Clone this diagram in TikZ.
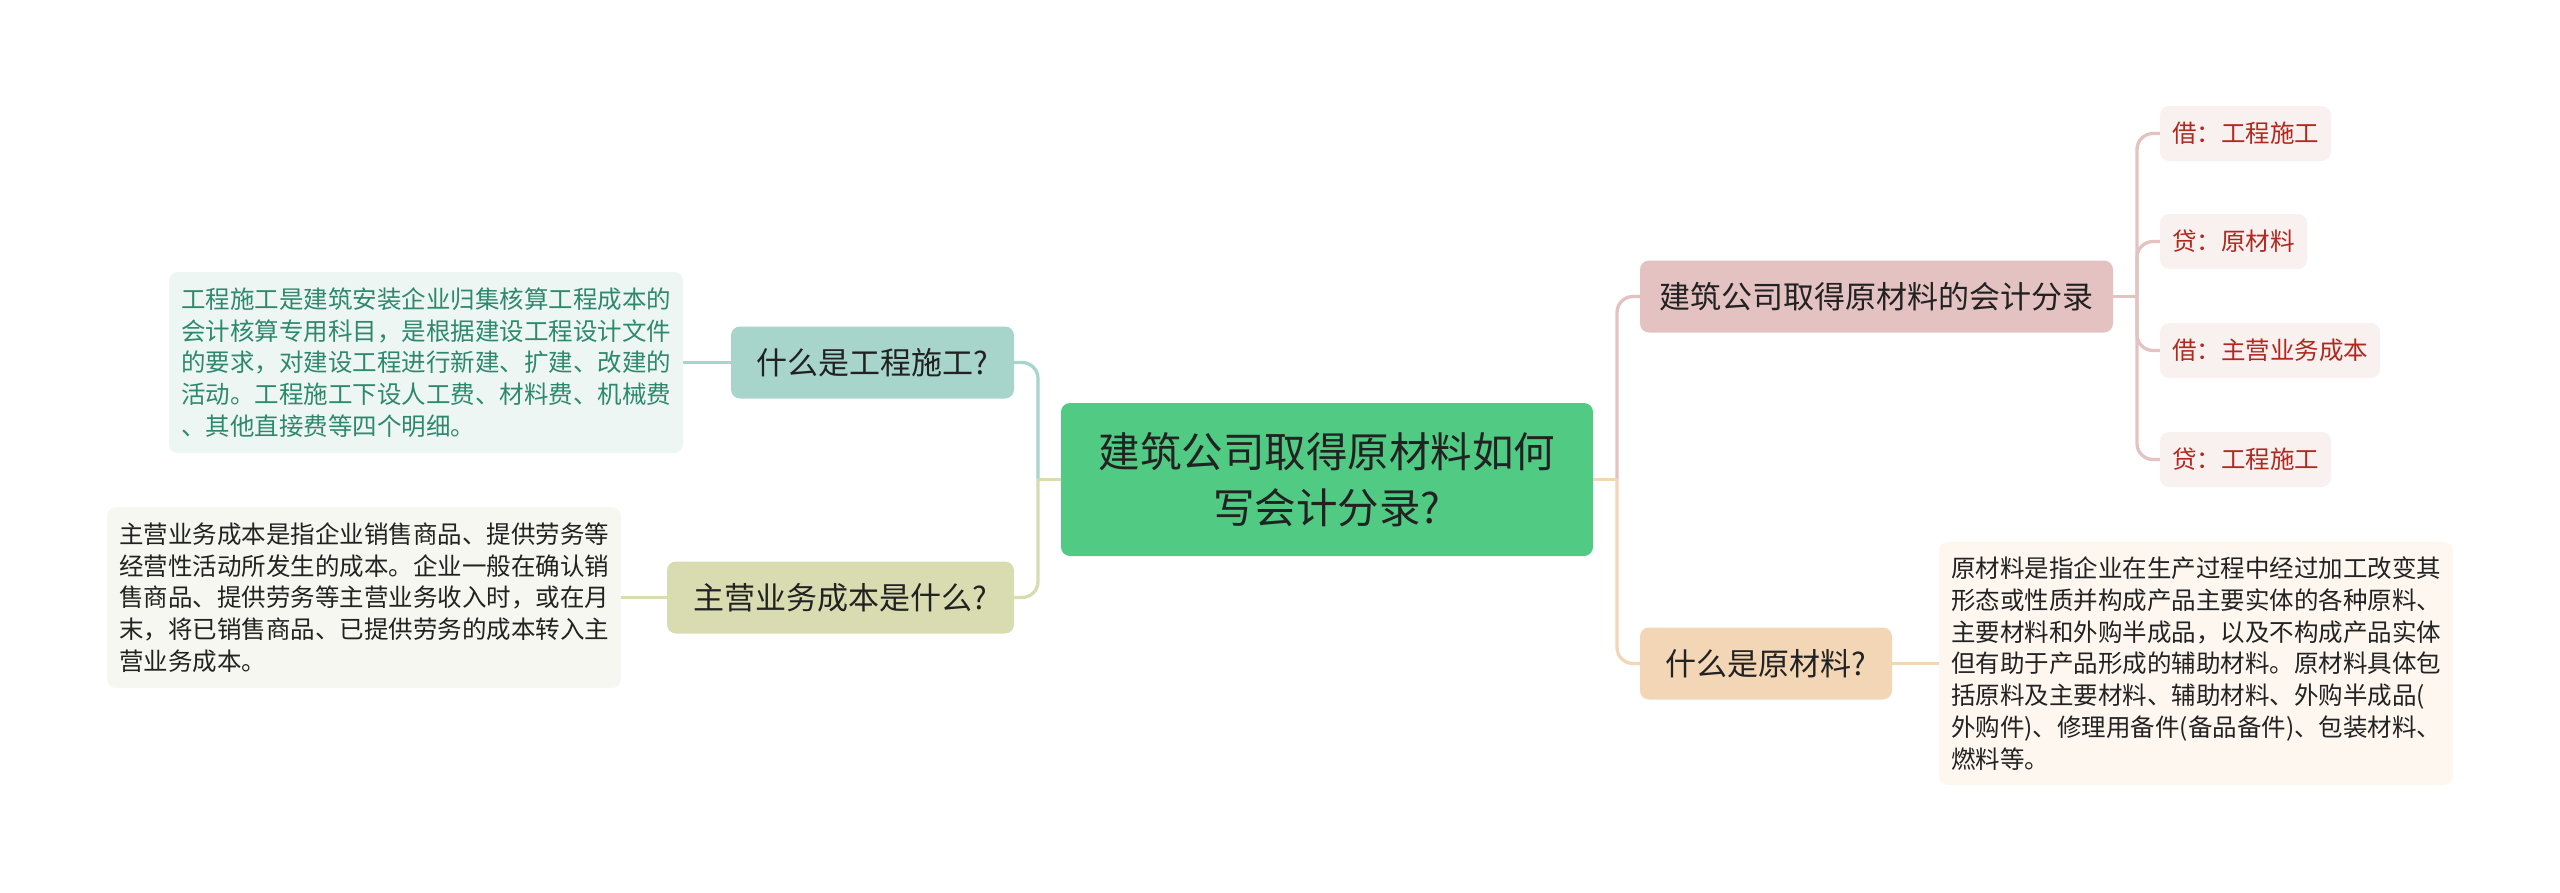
\documentclass[tikz,border=0pt]{standalone}
\usepackage{fontspec}
\setmainfont{Noto Sans CJK SC}
\definecolor{greenC}{RGB}{81,202,132}
\definecolor{tealN}{RGB}{167,212,203}
\definecolor{tealD}{RGB}{238,246,244}
\definecolor{tealT}{RGB}{46,137,108}
\definecolor{oliveN}{RGB}{216,220,176}
\definecolor{oliveD}{RGB}{246,247,240}
\definecolor{pinkN}{RGB}{229,194,194}
\definecolor{pinkD}{RGB}{249,240,240}
\definecolor{redT}{RGB}{176,40,30}
\definecolor{peachN}{RGB}{243,214,181}
\definecolor{peachD}{RGB}{253,247,240}
\definecolor{darkT}{RGB}{34,34,34}
\begin{document}
\begin{tikzpicture}[x=1pt,y=-1pt,
  box/.style={rounded corners=9pt, inner sep=0pt, align=center},
  mainbox/.style={box, fill=greenC, text=darkT, minimum width=532, minimum height=153,
    font=\fontsize{41.5}{56}\selectfont},
  lvlone/.style={box, text=darkT, minimum height=72, font=\fontsize{31}{38}\selectfont},
  leaf/.style={box, fill=pinkD, text=redT, minimum height=55, font=\fontsize{24.5}{30}\selectfont},
  detail/.style={box, align=left, text width=490pt, minimum width=514,
    font=\fontsize{24.5}{31.7}\selectfont},
  conn/.style={line width=3.3pt},
  elbow/.style={conn, rounded corners=16pt}]
\useasboundingbox (0,0) rectangle (2560,892);

% nodes
\node[mainbox] (root) at (1327,479.5) {建筑公司取得原材料如何\\写会计分录?};

\node[lvlone, fill=tealN, minimum width=283] (q1) at (872.5,362.5) {什么是工程施工?};
\node[lvlone, fill=oliveN, minimum width=347] (q2) at (840.5,597.5) {主营业务成本是什么?};
\node[lvlone, fill=pinkN, minimum width=473] (q3) at (1876.5,296.5) {建筑公司取得原材料的会计分录};
\node[lvlone, fill=peachN, minimum width=252] (q4) at (1766,663.5) {什么是原材料?};

\node[detail, fill=tealD, text=tealT, minimum height=181] (d1) at (426,362.5)
  {工程施工是建筑安装企业归集核算工程成本的\\会计核算专用科目，是根据建设工程设计文件\\的要求，对建设工程进行新建、扩建、改建的\\活动。工程施工下设人工费、材料费、机械费\\、其他直接费等四个明细。};
\node[detail, fill=oliveD, text=darkT, minimum height=181] (d2) at (364,597.5)
  {主营业务成本是指企业销售商品、提供劳务等\\经营性活动所发生的成本。企业一般在确认销\\售商品、提供劳务等主营业务收入时，或在月\\末，将已销售商品、已提供劳务的成本转入主\\营业务成本。};
\node[detail, fill=peachD, text=darkT, minimum height=243] (d3) at (2196,663.5)
  {原材料是指企业在生产过程中经过加工改变其\\形态或性质并构成产品主要实体的各种原料、\\主要材料和外购半成品，以及不构成产品实体\\但有助于产品形成的辅助材料。原材料具体包\\括原料及主要材料、辅助材料、外购半成品(\\外购件)、修理用备件(备品备件)、包装材料、\\燃料等。};

\node[leaf, minimum width=171] (l1) at (2245.5,133.5) {借：工程施工};
\node[leaf, minimum width=147] (l2) at (2233.5,241.5) {贷：原材料};
\node[leaf, minimum width=220] (l3) at (2270,350.5) {借：主营业务成本};
\node[leaf, minimum width=171] (l4) at (2245.5,459.5) {贷：工程施工};

% junctions
\coordinate (jl) at (1038,479.5);
\coordinate (jr) at (1617,479.5);
\coordinate (jp) at (2137,296.5);

% connectors
\draw[elbow, draw=tealN] (jl) |- (q1.east);
\draw[elbow, draw=oliveN] (jl) |- (q2.east);
\draw[conn, draw=oliveN] (root.west) -- (jl);

\draw[elbow, draw=pinkN] (jr) |- (q3.west);
\draw[elbow, draw=peachN] (jr) |- (q4.west);
\draw[conn, draw=peachN] (root.east) -- (jr);

\draw[conn, draw=pinkN] (q3.east) -- (jp);
\draw[elbow, draw=pinkN] (jp) |- (l1.west);
\draw[elbow, draw=pinkN] (jp) |- (l2.west);
\draw[elbow, draw=pinkN] (jp) |- (l3.west);
\draw[elbow, draw=pinkN] (jp) |- (l4.west);

\draw[conn, draw=tealN] (d1.east) -- (q1.west);
\draw[conn, draw=oliveN] (d2.east) -- (q2.west);
\draw[conn, draw=peachN] (q4.east) -- (d3.west);
\end{tikzpicture}
\end{document}
